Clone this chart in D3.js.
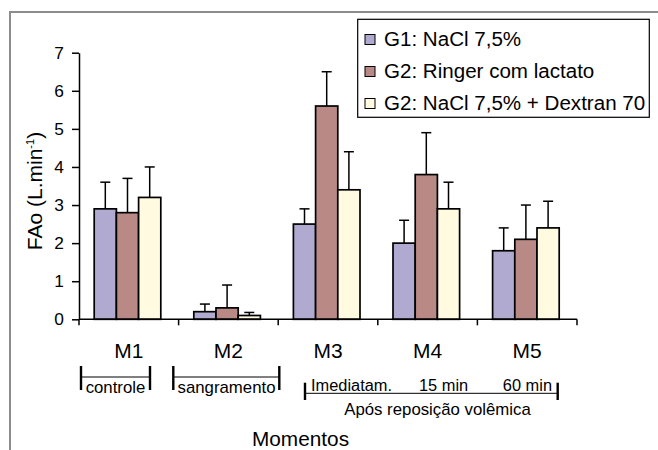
<!DOCTYPE html>
<html>
<head>
<meta charset="utf-8">
<script src="https://cdn.jsdelivr.net/npm/d3@7"></script>
<style>
  html, body { margin: 0; padding: 0; background: #fff; }
  svg { display: block; font-family: "Liberation Sans", Arial, sans-serif; }
  text { fill: #000; }
</style>
</head>
<body>
<svg id="chart" width="658" height="450"></svg>
<script>
// Momentos de coleta
const moments = ["M1", "M2", "M3", "M4", "M5"];
// Grupos
const groups = ["G1: NaCl 7,5%", "G2: Ringer com lactato", "G2: NaCl 7,5% + Dextran 70"];
// Médias de FAo (L.min-1) por grupo
const g1Mean = [2.9, 0.2, 2.5, 2.0, 1.8];
const g2Mean = [2.8, 0.3, 5.6, 3.8, 2.1];
const g3Mean = [3.2, 0.1, 3.4, 2.9, 2.4];
// Desvio padrão (barra superior)
const g1Sd = [0.7, 0.2, 0.4, 0.6, 0.6];
const g2Sd = [0.9, 0.6, 0.9, 1.1, 0.9];
const g3Sd = [0.8, 0.08, 1.0, 0.7, 0.7];
const yTicks = [0, 1, 2, 3, 4, 5, 6, 7];
const colors = ["#b0a9d0", "#b98986", "#fffae0"];

const means = [g1Mean, g2Mean, g3Mean];
const sds = [g1Sd, g2Sd, g3Sd];
const rows = [];
moments.forEach((m, i) => groups.forEach((g, j) => rows.push({ m, g, j, v: means[j][i], sd: sds[j][i] })));

const svg = d3.select("#chart");
const SX = 1.05; // leve alongamento horizontal do texto

function label(parent, x, y, str, size, anchor) {
  return parent.append("text")
    .attr("transform", `translate(${x},${y}) scale(${SX},1)`)
    .attr("text-anchor", anchor || "middle")
    .style("font-size", size + "px")
    .text(str);
}

// Moldura (bordas superior e esquerda)
svg.append("path")
  .attr("d", "M10,450 L10,12 L658,12")
  .attr("fill", "none").attr("stroke", "#8c8c8c").attr("stroke-width", 2);

const x = d3.scaleBand().domain(moments).range([79, 577]).padding(0);
const groupW = 66.6;
const xg = d3.scaleBand().domain(groups).range([0, groupW]).padding(0);
const y = d3.scaleLinear().domain([0, 7]).range([319.3, 52.7]);

const plot = svg.append("g");
const left = d => x(d.m) + (x.bandwidth() - groupW) / 2 - 1.3 + xg(d.g);

// Barras
plot.selectAll("rect.bar").data(rows).join("rect")
  .attr("class", "bar")
  .attr("x", left)
  .attr("y", d => y(d.v))
  .attr("width", xg.bandwidth())
  .attr("height", d => y(0) - y(d.v))
  .attr("fill", d => colors[d.j])
  .attr("stroke", "#000").attr("stroke-width", 1.7);

// Barras de erro
const cx = d => left(d) + xg.bandwidth() / 2;
plot.selectAll("line.err").data(rows).join("line")
  .attr("class", "err")
  .attr("x1", cx).attr("x2", cx)
  .attr("y1", d => y(d.v)).attr("y2", d => y(d.v + d.sd))
  .attr("stroke", "#000").attr("stroke-width", 1.5);
plot.selectAll("line.cap").data(rows).join("line")
  .attr("class", "cap")
  .attr("x1", d => cx(d) - 5).attr("x2", d => cx(d) + 5)
  .attr("y1", d => y(d.v + d.sd)).attr("y2", d => y(d.v + d.sd))
  .attr("stroke", "#000").attr("stroke-width", 1.5);

// Eixo Y
const yAxis = svg.append("g").attr("transform", "translate(79,0)")
  .call(d3.axisLeft(y).tickValues(yTicks).tickSize(7).tickSizeOuter(0).tickFormat(d3.format("d")));
yAxis.select(".domain").attr("stroke", "#000").attr("stroke-width", 1.5);
yAxis.selectAll(".tick line").attr("stroke", "#000").attr("stroke-width", 1.5);
yAxis.selectAll(".tick text").remove();
yTicks.forEach(t => label(svg, 64, y(t) + 5.8, String(t), 16.5, "end"));

// Eixo X
const xAxis = svg.append("g").attr("transform", `translate(0,${y(0)})`);
xAxis.append("line").attr("x1", 79).attr("x2", 577).attr("y1", 0).attr("y2", 0)
  .attr("stroke", "#000").attr("stroke-width", 1.5);
const bounds = moments.map(m => x(m)).concat([x(moments[moments.length - 1]) + x.bandwidth()]);
xAxis.selectAll("line.xt").data(bounds).join("line")
  .attr("class", "xt")
  .attr("x1", d => d).attr("x2", d => d).attr("y1", 0).attr("y2", 6)
  .attr("stroke", "#000").attr("stroke-width", 1.5);
moments.forEach(m => label(svg, x(m) + x.bandwidth() / 2, 357.5, m, 20));

// Título do eixo Y
svg.append("text")
  .attr("transform", "translate(42,191) rotate(-90)")
  .attr("text-anchor", "middle")
  .style("font-size", "21px")
  .call(t => {
    t.append("tspan").text("FAo (L.min");
    t.append("tspan").attr("dy", -8).style("font-size", "11px").text("-1");
    t.append("tspan").attr("dy", 8).text(")");
  });

// Título do eixo X
label(svg, 300.5, 446, "Momentos", 19.8);

// Colchetes das fases
const br = svg.append("g").attr("stroke", "#000");
function bracket(x1, x2, yTop, yBot, yMid) {
  br.append("line").attr("x1", x1).attr("x2", x1).attr("y1", yTop).attr("y2", yBot).attr("stroke-width", 2.4);
  br.append("line").attr("x1", x2).attr("x2", x2).attr("y1", yTop).attr("y2", yBot).attr("stroke-width", 2.4);
  br.append("line").attr("x1", x1).attr("x2", x2).attr("y1", yMid).attr("y2", yMid).attr("stroke-width", 1);
}
bracket(81, 150, 366, 390, 377);
bracket(173.3, 279.3, 366, 390, 377);
bracket(305, 557.7, 382.7, 400, 393.3);
label(svg, 115.5, 393, "controle", 16);
label(svg, 226.5, 393, "sangramento", 16);
label(svg, 311, 391, "Imediatam.", 15.6, "start");
label(svg, 419, 391, "15 min", 15.6, "start");
label(svg, 552, 391, "60 min", 15.6, "end");
label(svg, 437.5, 415, "Após reposição volêmica", 16);

// Legenda
const leg = svg.append("g");
leg.append("rect").attr("x", 357.7).attr("y", 19.3).attr("width", 291.6).attr("height", 98)
  .attr("fill", "#fff").attr("stroke", "#000").attr("stroke-width", 1.2);
groups.forEach((g, i) => {
  const yy = 46 + i * 32;
  leg.append("rect").attr("x", 365).attr("y", yy - 11.5).attr("width", 10).attr("height", 10)
    .attr("fill", colors[i]).attr("stroke", "#000").attr("stroke-width", 1);
  label(leg, 384, yy, g, 19.6, "start");
});
</script>
</body>
</html>
